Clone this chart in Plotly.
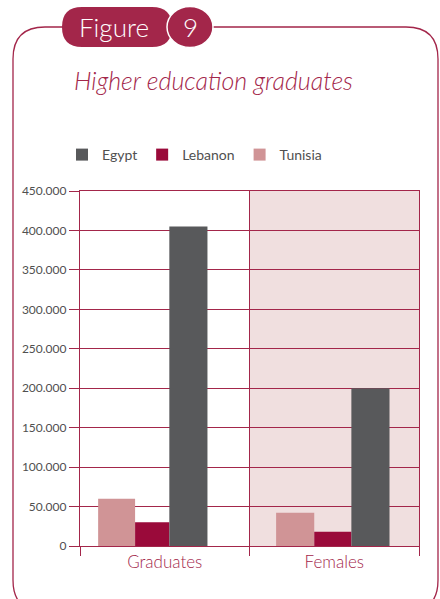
import plotly.graph_objects as go

# Higher education graduates by country
categories = ["Graduates", "Females"]
countries = ["Tunisia", "Lebanon", "Egypt"]
tunisia = [60000, 42000]
lebanon = [30000, 18000]
egypt = [405000, 200000]
y_ticks = [0, 50000, 100000, 150000, 200000, 250000, 300000, 350000, 400000, 450000]

series = {"Tunisia": tunisia, "Lebanon": lebanon, "Egypt": egypt}
colors = {"Tunisia": "#d09496", "Lebanon": "#9a0a3a", "Egypt": "#58595b"}
# bar placement within each category slot (fraction of slot width)
bar_offset = {"Tunisia": [-0.393, -0.343], "Lebanon": [-0.175, -0.118], "Egypt": [0.027, 0.101]}
bar_width = {"Tunisia": [0.218, 0.225], "Lebanon": [0.202, 0.219], "Egypt": [0.225, 0.225]}

CRIMSON = "#a3264a"
TEXT = "#505050"
FONT = "Lato"
W, H = 440, 599
L, R, T, B = 80, 21, 191, 53
PW, PH = W - L - R, H - T - B


def px(x):
    return (x - L) / PW


def py(y):
    return (H - B - y) / PH


fig = go.Figure()
for name in countries:
    fig.add_trace(go.Bar(
        x=categories, y=series[name], name=name,
        offset=bar_offset[name], width=bar_width[name],
        marker=dict(color=colors[name], line=dict(width=0)),
    ))

shapes = []
# shaded background behind the "Females" group
shapes.append(dict(type="rect", xref="x", yref="paper", x0=0.5, x1=1.5, y0=0, y1=1,
                   fillcolor="#f0dfdf", line=dict(width=0), layer="below"))


def rounded_rect(x0, y0, x1, y1, r):
    pts = [
        ("M", [(x0 + r, y0)]),
        ("L", [(x1 - r, y0)]),
        ("Q", [(x1, y0), (x1, y0 + r)]),
        ("L", [(x1, y1 - r)]),
        ("Q", [(x1, y1), (x1 - r, y1)]),
        ("L", [(x0 + r, y1)]),
        ("Q", [(x0, y1), (x0, y1 - r)]),
        ("L", [(x0, y0 + r)]),
        ("Q", [(x0, y0), (x0 + r, y0)]),
    ]
    out = []
    for cmd, ps in pts:
        out.append(cmd + " ".join(f"{px(a):.5f},{py(b):.5f}" for a, b in ps))
    return " ".join(out) + " Z"


# outer frame
shapes.append(dict(type="path", xref="paper", yref="paper",
                   path=rounded_rect(13, 27, 438, 612, 32),
                   line=dict(color=CRIMSON, width=1.3), fillcolor="rgba(0,0,0,0)", layer="above"))
# "Figure" pill
shapes.append(dict(type="path", xref="paper", yref="paper",
                   path=rounded_rect(62, 7, 172, 47, 20),
                   line=dict(color=CRIMSON, width=0), fillcolor=CRIMSON, layer="above"))
# number badge
shapes.append(dict(type="circle", xref="paper", yref="paper",
                   x0=px(167), x1=px(213), y0=py(47.5), y1=py(6.5),
                   line=dict(color="white", width=1.5), fillcolor=CRIMSON, layer="above"))

annotations = [
    dict(text="Figure", x=px(114), y=py(27), xref="paper", yref="paper", showarrow=False,
         xanchor="center", yanchor="middle",
         font=dict(family=FONT, size=26, color="white", weight=300)),
    dict(text="9", x=px(190), y=py(27), xref="paper", yref="paper", showarrow=False,
         xanchor="center", yanchor="middle",
         font=dict(family=FONT, size=26, color="white", weight=300)),
    dict(text="<i>Higher education graduates</i>", x=px(72), y=py(80), xref="paper", yref="paper",
         showarrow=False, xanchor="left", yanchor="middle",
         font=dict(family=FONT, size=25, color=CRIMSON, weight=300)),
]

fig.update_layout(
    width=W, height=H, autosize=False,
    margin=dict(l=L, r=R, t=T, b=B),
    paper_bgcolor="white", plot_bgcolor="rgba(0,0,0,0)",
    separators=",.",
    barmode="group", bargap=0.33, bargroupgap=0,
    font=dict(family=FONT, color=TEXT),
    showlegend=True,
    legend=dict(orientation="h", traceorder="reversed", x=px(62), y=py(155),
                xanchor="left", yanchor="middle",
                font=dict(family=FONT, size=14, color=TEXT),
                itemwidth=30, bgcolor="rgba(0,0,0,0)"),
    shapes=shapes,
    annotations=annotations,
    xaxis=dict(
        tickson="boundaries", ticks="outside", ticklen=9, tickcolor=CRIMSON, tickwidth=1.2,
        showgrid=True, gridcolor=CRIMSON, gridwidth=1.2,
        showline=True, linecolor=CRIMSON, linewidth=1.2, mirror=True,
        tickfont=dict(family=FONT, size=17, color=CRIMSON, weight=300), fixedrange=True,
    ),
    yaxis=dict(
        range=[0, 450000], tickvals=y_ticks, tickformat=",d",
        ticks="outside", ticklen=10, tickcolor=CRIMSON, tickwidth=1.2,
        showgrid=True, gridcolor=CRIMSON, gridwidth=1.2, zeroline=False,
        showline=True, linecolor=CRIMSON, linewidth=1.2, mirror=True,
        tickfont=dict(family=FONT, size=12, color=TEXT), fixedrange=True,
    ),
)

fig.write_html("out.html")
